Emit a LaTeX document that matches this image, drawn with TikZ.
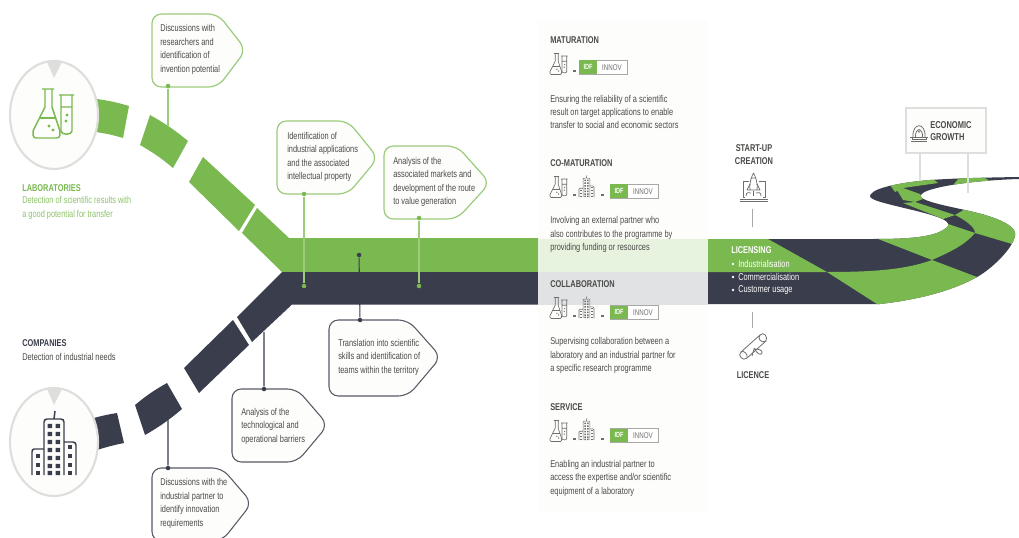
\documentclass[tikz,border=0pt]{standalone}
\usepackage{fontspec}
\usetikzlibrary{shapes.geometric}
\setmainfont[FakeStretch=0.75]{Liberation Sans}
\definecolor{gr}{HTML}{7AB850}
\definecolor{lgr}{HTML}{9CCB7C}
\definecolor{dk}{HTML}{3A3D4B}
\definecolor{txt}{HTML}{4A4A48}
\definecolor{ring}{HTML}{DEDEDC}
\definecolor{paper}{HTML}{FDFDFB}
\definecolor{icon}{HTML}{6E6E6C}
\tikzset{
 ctext/.style={anchor=west,align=left,inner sep=0pt,font=\fontsize{7.4pt}{10.1pt}\selectfont,text=txt},
 head/.style={anchor=west,inner sep=0pt,font=\fontsize{7.4pt}{9.5pt}\selectfont\bfseries,text=txt},
 gbox/.style={draw=lgr,line width=.9pt,fill=paper,rounded corners=7pt},
 dbox/.style={draw=dk!85,line width=.8pt,fill=paper,rounded corners=7pt},
 gline/.style={draw=lgr,line width=.9pt},
 dline/.style={draw=dk,line width=.8pt},
 gdot/.style={circle,fill=gr,inner sep=0pt,minimum size=3.4pt},
 ddot/.style={circle,fill=dk,inner sep=0pt,minimum size=3.4pt},
 disc/.style={ellipse,draw=ring,line width=1.6pt,fill=paper,minimum width=66pt,minimum height=81pt,inner sep=0pt},
 flaskicon/.pic={
  \draw[line join=round] (9,1)--(21,1) (12,1)--(12,19)--(0,43) to[out=-100,in=180] (3,50)--(24,50) to[out=0,in=-80] (27,43)--(19,19)--(19,1);
  \draw (7,30)--(23,30);
  \fill (16,38) circle (1.7) (20,42) circle (1.7);
  \draw (26,7)--(41,7) (28,7)--(28,43) to[out=-90,in=-90] (39,43)--(39,7) (28,19)--(39,19);
  \fill (34,27) circle (1.7) (33,33) circle (1.7);
 },
 towericon/.pic={
  \draw (0,65)--(0,42) to[out=90,in=180] (2,39)--(12,39) (12,65)--(12,12) to[out=90,in=180] (15,9)--(29,9) to[out=0,in=90] (32,12)--(32,65) (32,32)--(41,32) to[out=0,in=90] (44,35)--(44,65) (22,9)--(23,1);
  \foreach \y in {16,24,32,40,48,56,63}{\fill (15.5,\y-2.2) rectangle +(4.6,4.4) (23.5,\y-2.2) rectangle +(4.6,4.4);}
  \foreach \y in {37,46,55,63}{\fill (36,\y-2.2) rectangle +(4,4.4);}
  \foreach \y in {46,55,63}{\fill (4,\y-2.2) rectangle +(4,4.4);}
 },
}
\newcommand{\idflogo}[2]{%
 \draw[draw=icon!60,line width=.5pt,fill=white] (#1,#2) rectangle +(48,-13.5);
 \fill[gr] (#1,#2) rectangle +(18,-13.5);
 \node[inner sep=0pt,text=white,font=\fontsize{5.6pt}{6pt}\selectfont\bfseries] at (#1+9,#2-6.7) {IDF};
 \node[inner sep=0pt,text=icon,font=\fontsize{6.2pt}{6pt}\selectfont] at (#1+33,#2-6.7) {INNOV};
}
\newcommand{\smallflask}[2]{\pic[draw=icon,fill=icon,line width=.5pt,scale=.43] at (#1,#2) {flaskicon};}
\newcommand{\smalltower}[2]{\pic[draw=icon,fill=icon,line width=.45pt,scale=.34] at (#1,#2) {towericon};}
\newcommand{\dashmark}[2]{\fill[icon] (#1-1.5,#2-.7) rectangle (#1+1.5,#2+.7);}
\begin{document}
\begin{tikzpicture}[x=0.75pt,y=-0.75pt]
\useasboundingbox (0,0) rectangle (1019,538);
\fill[white] (0,0) rectangle (1019,538);
\fill[paper] (538,20) rectangle (708,512);
% --- upper green branch
\fill[gr] (97,99) to[bend left=4] (129,106)--(123,138) to[bend right=4] (96,132)--cycle;
\fill[gr] (150,115) to[bend left=5] (188,141)--(173,168) to[bend right=5] (140,145)--cycle;
\fill[gr] (203,157)--(255,205)--(239,231)--(189,182)--cycle;
\fill[gr] (257,208)--(289,238)--(538,238)--(538,272)--(282,272)--(242,233)--cycle;
% --- lower dark branch
\fill[dk] (94,418) to[bend left=3] (117,413)--(124,443) to[bend right=3] (97,450)--cycle;
\fill[dk] (167,383)--(182,409) to[bend left=5] (145,435)--(135,405) to[bend right=-5] (167,383)--cycle;
\fill[dk] (233,320)--(249,345)--(199,393)--(184,368)--cycle;
\fill[dk] (282,272)--(538,272)--(538,304.5)--(292,304.5)--(252,342)--(237,317)--cycle;
% --- pale overlay
\fill[gr!18!white] (538,239) rectangle (708,272);
\fill[dk!15!white] (538,272) rectangle (708,305);
% --- road
\begin{scope}
\clip (708,239)--(873,239) .. controls (905,239) and (938,238) .. (948,226)
  .. controls (952,219) and (925,213) .. (900,207) .. controls (880,202) and (866,199) .. (871,194)
  .. controls (876,187) and (905,182) .. (930,180) .. controls (960,178) and (990,177.5) .. (1019,177)
  --(1019,179) .. controls (985,180) and (950,184) .. (933,189) .. controls (925,191) and (917,195) .. (922,198)
  .. controls (930,204) and (965,209) .. (985,215) .. controls (1005,221) and (1017,228) .. (1015,236)
  .. controls (1012,250) and (990,270) .. (977,277) .. controls (950,292) and (915,300) .. (880,304)
  --(708,304)--cycle;
\fill[dk] (700,170) rectangle (1019,310);
\fill[gr] (708,239)--(768,239)--(827,272)--(708,272)--cycle;
\fill[gr] (827,272) .. controls (870,272) and (905,270) .. (932,260)--(977,277)--(960,300)--(880,306)--cycle;
\fill[gr] (873,237)--(948,224)--(975,233) .. controls (965,245) and (950,252) .. (932,260)--cycle;
\fill[gr] (955,215)--(967,208)--(1020,225)--(1020,246)--(1012,244)--(975,233) .. controls (975,227) and (965,220) .. (955,215)--cycle;
\fill[gr] (897,190)--(903,188)--(920,194)--(923,199)--(915,202)--(903,200)--cycle;
\fill[gr] (903,203)--(915,202)--(955,215)--(943,219)--cycle;
\fill[gr] (890,185)--(933,179)--(938,183)--(903,188)--(895,192)--cycle;
\fill[gr] (953,185)--(960,177)--(983,177)--(992,182)--(973,185)--cycle;
\end{scope}
% --- sign
\node[draw=ring,line width=1.3pt,fill=paper,minimum width=60pt,minimum height=33.5pt,inner sep=0pt] (sign) at (946,130.5) {};
\coordinate (legA) at (920,181);
\coordinate (legB) at (968,193);
\draw[ring,line width=1.1pt] (920,153)--(legA) (968,153)--(legB);
\node[head,font=\fontsize{7.5pt}{9.4pt}\selectfont\bfseries,align=left] at (930,131) {ECONOMIC\\GROWTH};
\begin{scope}[icon,line width=.6pt]
\draw (913,137) .. controls (912,122) and (926,122) .. (925,137);
\draw (915.5,137) .. controls (915,127) and (923,127) .. (922.5,137);
\node[inner sep=0pt,font=\fontsize{5pt}{5pt}\selectfont] at (919,132) {$\star$};
\draw (912,137.5) rectangle (926,139.5) (911,141)--(927,141);
\draw (910,137)--(913,137) (925,137)--(928,137);
\end{scope}
% --- discs
\node[disc] (lab) at (54,115) {};
\node[disc] (comp) at (54,442) {};
\fill[ring] (47,62)--(62,62)--(54,78)--cycle;
\fill[ring] (47,389)--(62,389)--(54,405)--cycle;
\pic[draw=gr,fill=gr,line width=1.1pt] at (33,88) {flaskicon};
\pic[draw=dk,fill=dk,line width=1.1pt] at (32,410) {towericon};
% --- left labels
\node[head,text=gr] at (22,188) {LABORATORIES};
\node[ctext,text=gr!85!white] at (22,208) {Detection of scientific results with\\a good potential for transfer};
\node[head,text=dk] at (22,343) {COMPANIES};
\node[ctext] at (22,357) {Detection of industrial needs};
% --- callouts
\draw[gbox] (152,14)--(218,14)--(246,50)--(218,87)--(152,87)--cycle;
\node[ctext] (b1) at (160,49.5) {Discussions with\\researchers and\\identification of\\invention potential};
\draw[gbox] (277,121)--(348,121)--(378,158)--(348,194)--(277,194)--cycle;
\node[ctext] (b2) at (287,157) {Identification of\\industrial applications\\and the associated\\intellectual property};
\draw[gbox] (384,146)--(457,146)--(490,183)--(457,219)--(384,219)--cycle;
\node[ctext] (b3) at (393,182) {Analysis of the\\associated markets and\\development of the route\\to value generation};
\draw[dbox] (329,320)--(408,320)--(441,357)--(408,396)--(329,396)--cycle;
\node[ctext] (b4) at (338,357) {Translation into scientific\\skills and identification of\\teams within the territory};
\draw[dbox] (232,389)--(297,389)--(328,425)--(297,462)--(232,462)--cycle;
\node[ctext] (b5) at (241,426) {Analysis of the\\technological and\\operational barriers};
\draw[dbox] (152,468)--(222,468)--(252,503)--(222,541)--(152,541)--cycle;
\node[ctext] (b6) at (160,503.5) {Discussions with the\\industrial partner to\\identify innovation\\requirements};
% --- connectors
\node[gdot] (d1) at (168,86) {}; \coordinate (e1) at (168,126);
\node[gdot] (d2) at (304,194) {}; \node[gdot] (e2) at (304,286) {};
\node[gdot] (d3) at (419,218) {}; \node[gdot] (e3) at (419,286) {};
\node[ddot] (d4) at (360,320) {}; \node[ddot] (e4) at (359,255) {};
\node[ddot] (d5) at (264,389) {}; \coordinate (e5) at (264,332);
\node[ddot] (d6) at (168,468) {}; \coordinate (e6) at (168,420);
\draw[gline] (d1)--(e1) (d2)--(e2) (d3)--(e3);
\draw[dline] (d4)--(e4) (d5)--(e5) (d6)--(e6);
% --- middle column
\node[head] at (550,40) {MATURATION};
\smallflask{550}{53} \dashmark{574}{71} \idflogo{579}{74}
\node[ctext] at (550,112) {Ensuring the reliability of a scientific\\result on target applications to enable\\transfer to social and economic sectors};
\node[head] at (550,163) {CO-MATURATION};
\smallflask{550}{176} \dashmark{574}{195} \smalltower{579}{175} \dashmark{602}{195} \idflogo{610}{198}
\node[ctext] at (550,234.5) {Involving an external partner who\\also contributes to the programme by\\providing funding or resources};
\node[head] at (550,284) {COLLABORATION};
\smallflask{550}{297} \dashmark{574}{316} \smalltower{579}{296} \dashmark{602}{316} \idflogo{610}{319}
\node[ctext] at (550,355.5) {Supervising collaboration between a\\laboratory and an industrial partner for\\a specific research programme};
\node[head] at (550,407) {SERVICE};
\smallflask{550}{420} \dashmark{574}{439} \smalltower{579}{418} \dashmark{602}{439} \idflogo{610}{442}
\node[ctext] at (550,478) {Enabling an industrial partner to\\access the expertise and/or scientific\\equipment of a laboratory};
% --- right column
\node[head,anchor=center,align=center] at (754,154.5) {START-UP\\CREATION};
\begin{scope}[icon,line width=.55pt,line join=round]
\draw (745,197)--(743,197)--(743,181)--(749,181) (759,181)--(765,181)--(765,197)--(763,197);
\draw (740,199.5)--(767.5,199.5) (740,201)--(767.5,201);
\draw (750,190) .. controls (749,182) and (752,176) .. (753.5,173) .. controls (755,176) and (758,182) .. (757,190)--cycle;
\draw (750,184)--(747,190)--(750,190) (757,184)--(760,190)--(757,190) (751,178)--(756,178);
\draw (746,196) .. controls (746,192) and (749,192) .. (751,193) (761,196) .. controls (761,192) and (758,192) .. (756,193) (753.5,191)--(753.5,196);
\end{scope}
\coordinate (s1) at (752,209); \coordinate (s2) at (752,227);
\draw[icon!60,line width=.6pt] (s1)--(s2);
\node[head,text=white,font=\fontsize{7.4pt}{9pt}\selectfont\bfseries] at (731,250) {LICENSING};
\foreach \y/\t in {264/Industrialisation,277/Commercialisation,290/Customer usage}{
  \fill[white] (733,\y) circle (1.4);
  \node[ctext,text=white] at (738,\y) {\t};
}
\coordinate (l1) at (752,312); \coordinate (l2) at (752,328);
\draw[icon!60,line width=.6pt] (l1)--(l2);
\begin{scope}[icon,line width=.6pt,line join=round]
\draw (741,352)--(760,335) .. controls (764,331) and (768,337) .. (766,341)--(747,358) .. controls (743,362) and (737,355) .. (741,352);
\draw (760,335) .. controls (757,338) and (761,344) .. (766,341);
\draw (741,352) .. controls (744,350) and (748,354) .. (747,358);
\draw (754,348) .. controls (757,354) and (761,356) .. (762,353) .. controls (763,350) and (758,349) .. (755,349) (754,349)--(752,356);
\end{scope}
\node[head,anchor=center] at (753,375) {LICENCE};
\end{tikzpicture}
\end{document}
